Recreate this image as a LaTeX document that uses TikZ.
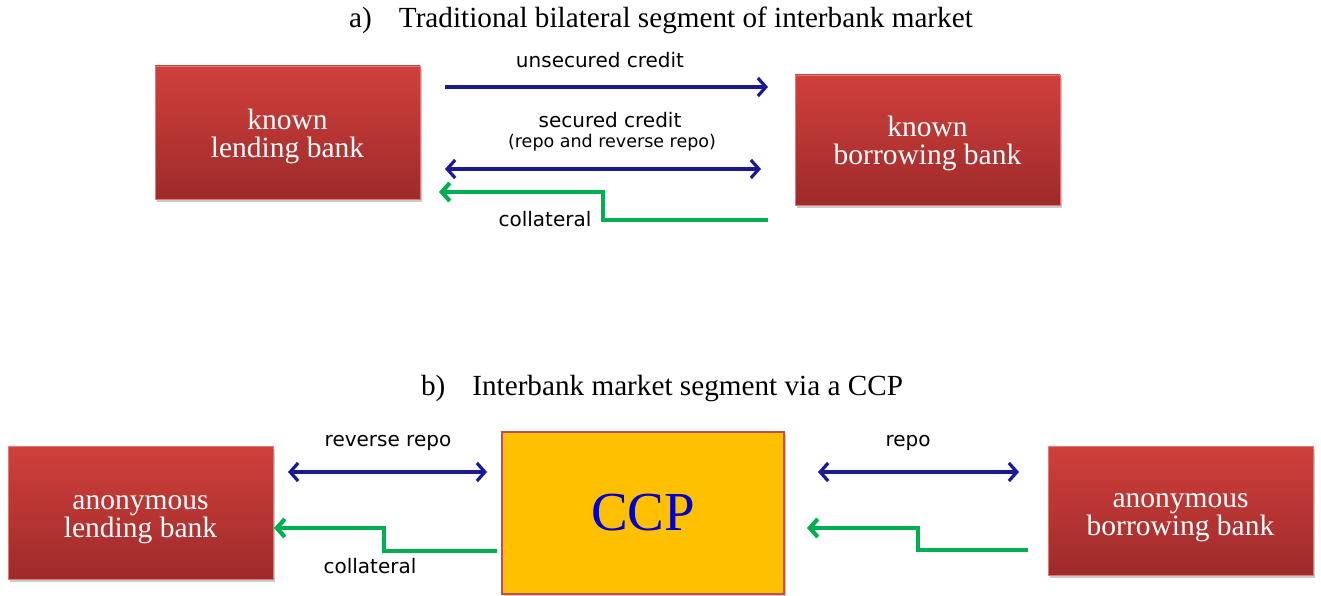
\documentclass[tikz,border=0pt]{standalone}
\usepackage{fontspec}
\setmainfont{Liberation Serif}
\newfontfamily\labelfont{DejaVu Sans}
\usetikzlibrary{arrows.meta,shadows}

\definecolor{bankTop}{RGB}{208,64,60}
\definecolor{bankBot}{RGB}{158,42,42}
\definecolor{flowBlue}{RGB}{26,26,150}
\definecolor{collGreen}{RGB}{0,176,80}
\definecolor{ccpFill}{RGB}{255,192,0}
\definecolor{ccpEdge}{RGB}{192,80,77}
\definecolor{ccpText}{RGB}{0,0,204}

% fixed first-line height so two-line box texts sit alike
\newcommand{\firstline}{\rule{0pt}{27.5pt}}

\tikzset{
  bank/.style={rectangle, draw=bankTop!70!white, line width=0.6pt,
    top color=bankTop, bottom color=bankBot, text=white, align=center,
    font=\fontsize{29.5}{28}\selectfont,
    drop shadow={shadow xshift=2pt, shadow yshift=-3pt, opacity=0.35, fill=black!60}},
  ccpbox/.style={rectangle, draw=ccpEdge, line width=1.4pt, fill=ccpFill,
    text=ccpText, font=\fontsize{55}{55}\selectfont,
    drop shadow={shadow xshift=2pt, shadow yshift=-3pt, opacity=0.35, fill=black!60}},
  title/.style={font=\fontsize{29.2}{31}\selectfont},
  flowlabel/.style={font=\labelfont\fontsize{20}{23}\selectfont, align=center},
  smalllabel/.style={font=\labelfont\fontsize{17.5}{20}\selectfont, align=center},
  credit/.style={draw=flowBlue, line width=3.2pt,
    -{Straight Barb[length=8pt,width=18pt]}},
  twoway/.style={draw=flowBlue, line width=3.2pt,
    {Straight Barb[length=8pt,width=18pt]}-{Straight Barb[length=8pt,width=18pt]}},
  collflow/.style={draw=collGreen, line width=4.2pt,
    -{Straight Barb[length=8pt,width=18pt]}},
}

\begin{document}
\begin{tikzpicture}[x=1pt,y=-1pt]
  \useasboundingbox (0,0) rectangle (1321,596);

  % ---------- a) bilateral segment ----------
  \node[title] (ta) at (661,20) {a)\hspace{27pt}Traditional bilateral segment of interbank market};

  \node[bank, minimum width=265pt, minimum height=133pt] (klb) at (287.5,132.5)
    {\firstline known\\lending bank};
  \node[bank, minimum width=265pt, minimum height=130pt] (kbb) at (927.5,140)
    {\firstline known\\borrowing bank};

  \coordinate (u1) at (445,87);
  \coordinate (u2) at (768,87);
  \node[flowlabel] (lu) at (600,60) {unsecured credit};
  \draw[credit] (u1) -- (u2);

  \coordinate (s1) at (445,169);
  \coordinate (s2) at (761,169);
  \node[flowlabel] (ls) at (610,120) {secured credit};
  \node[smalllabel] (lsr) at (612,143) {(repo and reverse repo)};
  \draw[twoway] (s1) -- (s2);

  \coordinate (c1) at (768,220);
  \coordinate (c2) at (439,192);
  \node[flowlabel] (lc) at (545,219) {collateral};
  \draw[collflow] (c1) -- (603,220) -- (603,192) -- (c2);

  % ---------- b) segment via a CCP ----------
  \node[title] (tb) at (662,389) {b)\hspace{27pt}Interbank market segment via a CCP};

  \node[bank, minimum width=265pt, minimum height=133pt] (alb) at (140.5,512.5)
    {\firstline anonymous\\lending bank};
  \node[ccpbox, minimum width=282pt, minimum height=162pt] (ccp) at (643,513) {CCP};
  \node[bank, minimum width=265pt, minimum height=129pt] (abb) at (1180.5,510.5)
    {\firstline anonymous\\borrowing bank};

  \coordinate (r1) at (288,472);
  \coordinate (r2) at (487,472);
  \node[flowlabel] (lrr) at (388,443) {reverse repo};
  \draw[twoway] (r1) -- (r2);

  \coordinate (p1) at (818,472);
  \coordinate (p2) at (1019,472);
  \node[flowlabel] (lr) at (908,443) {repo};
  \draw[twoway] (p1) -- (p2);

  \coordinate (g1) at (497,551);
  \coordinate (g2) at (274,528);
  \node[flowlabel] (lcb) at (370,566) {collateral};
  \draw[collflow] (g1) -- (384,551) -- (384,528) -- (g2);

  \coordinate (h1) at (1028,550);
  \coordinate (h2) at (807,528);
  \draw[collflow] (h1) -- (918,550) -- (918,528) -- (h2);
\end{tikzpicture}
\end{document}
